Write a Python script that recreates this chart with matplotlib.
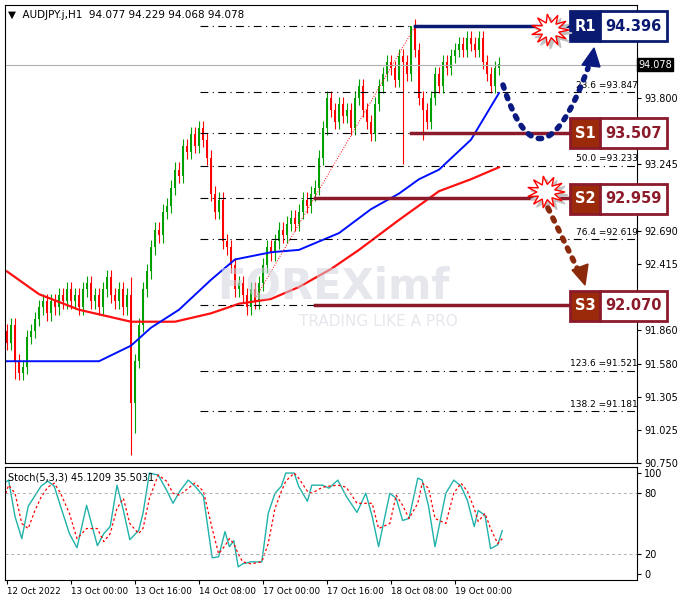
import matplotlib
matplotlib.use("Agg")
import matplotlib.pyplot as plt
import numpy as np
from matplotlib.patches import Rectangle, Polygon
from matplotlib.lines import Line2D

W, H = 678, 603
closes = [91.75,91.9,91.6,91.5,91.55,91.8,91.85,91.95,92.05,92.1,92.0,
          92.1,92.05,92.15,92.1,92.2,92.1,92.15,92.05,92.2,92.25,92.1,92.15,92.05,92.2,92.3,92.15,92.1,92.2,92.05,92.15,
          91.25,91.6,91.9,92.2,92.35,
          92.55,92.7,92.65,92.85,92.9,93.05,93.2,93.15,93.4,93.35,93.5,93.4,93.55,93.45,93.3,
          93.0,92.85,92.95,92.6,92.55,92.4,92.2,92.25,92.15,92.05,92.2,92.1,
          92.25,92.4,92.55,92.5,92.6,92.7,92.65,92.75,92.8,92.75,92.85,92.95,92.9,93.0,93.05,
          93.3,93.55,93.8,93.7,93.6,93.75,93.65,93.7,93.55,93.8,93.9,93.7,93.6,
          93.5,93.75,93.9,94.0,94.1,94.05,93.95,94.15,94.1,94.0,
          94.4,94.2,93.8,93.7,
          93.6,93.8,94.0,93.9,94.1,94.05,94.15,94.2,94.25,94.2,94.3,94.25,94.2,94.3,94.1,94.0,93.9,94.05,94.08]
first_open = 91.85
wick_low_override = {31: 90.82, 32: 91.0, 2: 91.45, 99: 93.25, 104: 93.45}
wick_high_override = {101: 94.4, 31: 92.3}

blue_x = [0,23,31,36,43,51,57,66,73,78,83,91,98,103,108,116,123]
blue_y = [91.6,91.6,91.73,91.88,92.03,92.28,92.45,92.51,92.53,92.6,92.67,92.87,93.0,93.12,93.2,93.45,93.84]
red_x = [0,8,18,31,42,51,58,66,73,81,88,98,108,116,123]
red_y = [92.35,92.16,92.03,91.93,91.93,92.0,92.08,92.12,92.22,92.37,92.53,92.78,93.02,93.12,93.22]

stoch_x = [-0.7,0.4,2,3.7,5.3,6.9,8.5,10.2,11.8,13.4,15.6,17.5,19.9,22.6,24.2,25.8,27.5,29.1,30.7,32.9,34,35.6,37.8,39.9,41.5,43.2,45.3,47,49.1,51.3,52.9,54.5,55.6,56.7,57.8,58.9,61,63.7,65.3,67,68.6,69.7,71.8,72.9,75.1,76.2,78.9,80.5,82.7,84.8,87.5,89.7,91.3,92.9,95.7,97.3,98.9,100.5,102.7,103.8,105.4,107,109.7,111.7,113.5,115.1,116.8,117.8,119.5,120.9,122.7,123.8]
stoch_k = [90,93,57,35,67,77,87,92,87,67,40,26,68,28,40,47,88,63,34,43,60,100,98,83,70,82,93,87,77,16,17,42,27,33,7,10,12,12,60,80,87,100,100,87,72,88,88,85,93,77,61,80,57,27,80,75,53,55,95,93,67,27,80,93,87,73,47,63,58,25,29,43]
stoch_d = [75,88,80,50,45,62,76,86,90,80,60,35,45,45,32,40,65,75,50,40,45,75,98,92,80,78,85,90,82,45,20,28,35,30,20,12,10,12,30,65,82,92,100,95,82,80,86,87,88,86,70,70,70,45,50,78,68,55,70,90,85,55,50,80,90,82,65,52,60,45,30,35]

fib_levels = [94.396, 93.847, 93.507, 93.233, 92.959, 92.619, 92.070, 91.521, 91.181]
fib_labels = {93.847: "23.6 =93.847", 93.233: "50.0 =93.233", 92.619: "76.4 =92.619",
              91.521: "123.6 =91.521", 91.181: "138.2 =91.181"}
price_ticks = [93.800, 93.245, 92.690, 92.415, 91.860, 91.580, 91.305, 91.025, 90.750]
time_idx = [0,16,32,48,64,80,96,112]
time_labels = ["12 Oct 2022","13 Oct 00:00","13 Oct 16:00","14 Oct 08:00","17 Oct 00:00","17 Oct 16:00","18 Oct 08:00","19 Oct 00:00"]
levels = [("R1", 94.396), ("S1", 93.507), ("S2", 92.959), ("S3", 92.070)]
current = 94.078

fig = plt.figure(figsize=(W/100, H/100), dpi=100)
def fr(x, y): return (x/W, 1-y/H)
ax = fig.add_axes([5/W, 1-463/H, 632/W, 458/H])
ax2 = fig.add_axes([5/W, 1-580/H, 632/W, 113/H])
xl = ((5-7)/4, (637-7)/4)
for a in (ax, ax2):
    a.set_xlim(*xl)
    a.yaxis.tick_right()
    a.tick_params(axis='y', labelsize=7, length=3, pad=2)
    for s in a.spines.values(): s.set_linewidth(0.8)
ax.set_ylim(90.758, 94.575)

opens = [first_open] + closes[:-1]
for i, (o, c) in enumerate(zip(opens, closes)):
    col = '#00a000' if c >= o else '#ff0000'
    hi = wick_high_override.get(i, max(o, c) + 0.06)
    lo = wick_low_override.get(i, min(o, c) - 0.06)
    ax.vlines(i, lo, hi, color=col, lw=0.8)
    ax.add_patch(Rectangle((i-0.3, min(o, c)), 0.6, max(abs(c-o), 0.01), color=col, lw=0))

ax.plot(red_x, red_y, color='#ff1010', lw=1.6)
ax.plot(blue_x, blue_y, color='#0010ff', lw=1.4)
ax.axhline(current, color='#b0b0b0', lw=0.8)

fx0, fx1 = (200-7)/4, (640-7)/4
for lv in fib_levels:
    ax.plot([fx0, fx1], [lv, lv], color='black', lw=0.8, ls=(0, (7, 4, 1, 4)))
    if lv in fib_labels:
        ax.text(fx1-0.5, lv+0.02, fib_labels[lv], fontsize=6.5, ha='right', va='bottom')
ax.plot([62, 102], [92.12, 94.396], color='red', lw=0.7, ls=':')

ax.set_yticks(price_ticks)
ax.set_yticklabels([f"{p:.3f}" for p in price_ticks])
ax.set_xticks([])
ax.text(1.002, current, f"{current:.3f}", transform=ax.get_yaxis_transform(), fontsize=7,
        color='white', va='center', ha='left', bbox=dict(fc='black', ec='black', pad=1))

ax.text(0.52, 0.385, "FOREXimf", transform=ax.transAxes, fontsize=30, color='#d0d4de', alpha=0.55,
        ha='center', va='center', fontweight='bold')
ax.text(0.59, 0.31, "TRADING LIKE A PRO", transform=ax.transAxes, fontsize=11, color='#d0d4de', alpha=0.55,
        ha='center', va='center')
ax.text(0.005, 0.99, "▼  AUDJPY.j,H1  94.077 94.229 94.068 94.078", transform=ax.transAxes,
        fontsize=7.5, va='top')

starts = {"R1": 102, "S1": 101, "S2": 77, "S3": 77}
for name, v in levels:
    col = '#0a1a70' if name == "R1" else '#8b1a2b'
    ax.plot([starts[name], (570-7)/4], [v, v], color=col, lw=2.5)

def yp(v): return 98 + (93.8 - v) * 120
for name, v in levels:
    y = yp(v)
    dark = '#0a1a70' if name == "R1" else '#9b2a0a'
    edge = '#0a1a70' if name == "R1" else '#8b1a2b'
    tcol = '#0a1a70' if name == "R1" else '#8b1a2b'
    x0, x1, xm = 570, 667, 600
    fig.add_artist(Rectangle(fr(x0, y+15), (xm-x0)/W, 30/H, transform=fig.transFigure, fc=dark, ec=edge, lw=2))
    fig.add_artist(Rectangle(fr(xm, y+15), (x1-xm)/W, 30/H, transform=fig.transFigure, fc='white', ec=edge, lw=2))
    fig.text(*fr((x0+xm)/2, y), name, color='white', fontsize=10.5, fontweight='bold', ha='center', va='center')
    fig.text(*fr((xm+x1)/2, y), f"{v:.3f}", color=tcol, fontsize=10.5, fontweight='bold', ha='center', va='center')

def star(cx, cy):
    n = 11
    ang = np.linspace(0, 2*np.pi, 2*n, endpoint=False)
    r = np.where(np.arange(2*n) % 2 == 0, 19, 9)
    for dx, fc, ec in [(3, '#c0c0c0', '#c0c0c0'), (0, 'white', 'red')]:
        pts = [fr(cx+dx + rr*np.cos(a), cy+dx + rr*0.85*np.sin(a)) for rr, a in zip(r, ang)]
        fig.add_artist(Polygon(pts, closed=True, transform=fig.transFigure, fc=fc, ec=ec, lw=1))
star(550, 30)
star(546, 192)

t = np.linspace(0, 1, 40)
bx = [503, 540, 588]; by = [85, 200, 68]
cxs = (1-t)**2*bx[0] + 2*(1-t)*t*bx[1] + t**2*bx[2]
cys = (1-t)**2*by[0] + 2*(1-t)*t*by[1] + t**2*by[2]
fig.add_artist(Line2D([c/W for c in cxs], [1-c/H for c in cys], transform=fig.transFigure,
                      color='#0a1a80', lw=4, ls=(0, (0.6, 1.4)), dash_capstyle='round'))
fig.add_artist(Polygon([fr(582, 65), fr(600, 67), fr(594, 48)], transform=fig.transFigure, fc='#0a1a80', ec='#0a1a80'))
fig.add_artist(Line2D([548/W, 579/W], [1-208/H, 1-272/H], transform=fig.transFigure,
                      color='#8b2a0a', lw=4, ls=(0, (0.6, 1.4)), dash_capstyle='round'))
fig.add_artist(Polygon([fr(572, 270), fr(588, 264), fr(585, 285)], transform=fig.transFigure, fc='#8b2a0a', ec='#8b2a0a'))

ax2.set_ylim(-6, 106)
ax2.plot(stoch_x, stoch_k, color='#20b2aa', lw=1)
ax2.plot(stoch_x, stoch_d, color='red', lw=0.9, ls=(0, (2, 2)))
for lv in (20, 80):
    ax2.axhline(lv, color='#b0b0b0', lw=0.7, ls=(0, (3, 3)))
ax2.set_yticks([0, 20, 80, 100])
ax2.text(0.005, 0.95, "Stoch(5,3,3) 45.1209 35.5031", transform=ax2.transAxes, fontsize=7, va='top')
ax2.set_xticks(time_idx)
ax2.set_xticklabels(time_labels, fontsize=6.3, ha='left')
ax2.tick_params(axis='x', length=3, pad=2)

fig.savefig("out.png", dpi=100)
